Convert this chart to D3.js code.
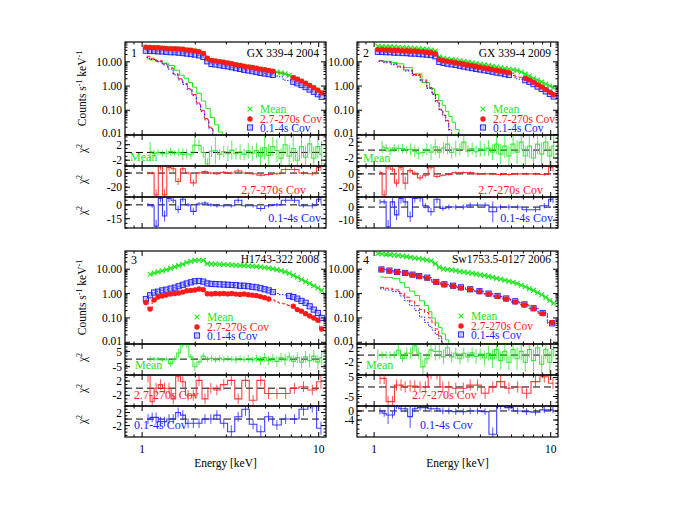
<!DOCTYPE html>
<html>
<head>
<meta charset="utf-8">
<script src="https://cdn.jsdelivr.net/npm/d3@7"></script>
<style>
body { margin: 0; background: #fff; }
svg { display: block; }
svg text { font-family: "Liberation Serif", "DejaVu Serif", "Times New Roman", serif; }
</style>
</head>
<body>
<svg id="chart" width="692" height="518"></svg>
<script>
// energy grids (keV)
const E_SPEC = [1.05,1.11,1.17,1.23,1.30,1.37,1.45,1.53,1.61,1.70,1.79,1.89,1.99,2.10,2.22,2.34,2.47,2.60,2.75,2.90,3.06,3.22,3.40,3.59,3.78,3.99,4.21,4.44,4.68,4.94,5.21,5.50,5.80,6.12,6.45,6.81,7.18,7.57,7.99,8.43,8.89,9.38,9.89,10.4];
const E_RES = [1.08,1.14,1.2,1.27,1.34,1.42,1.5,1.6,1.7,1.82,1.95,2.1,2.27,2.45,2.65,2.9,3.2,3.5,3.85,4.25,4.7,5.2,5.8,6.5,7.3,8.2,9.2,10.3];
const E4_COV = [1.1,1.22,1.35,1.5,1.65,1.8,2.0,2.25,2.5,2.8,3.1,3.5,3.95,4.45,5.0,5.6,6.3,7.1,8.0,9.0,10.2];

// ---- panel 1: GX 339-4 2004 ----
const p1Mean  = [40,39,38,38,37,36,35,35,34,33,31,30,28,26,22,14,11.5,10.8,10.2,9.6,9.0,8.4,7.6,7.1,6.6,6.2,5.8,5.4,5.0,4.7,4.4,4.1,3.8,3.5,3.2,2.8,2.3,1.95,1.6,1.3,1.05,0.86,0.68,0.52];
const p1Cov27 = [40,39,38,38,37,36,35,35,34,33,31,30,28,26,22,14,11.5,10.8,10.2,9.6,9.0,8.4,7.6,7.1,6.6,6.2,5.8,5.4,5.0,4.7,4.4,4.1,null,null,null,null,2.2,1.9,1.6,1.3,1.05,0.85,0.68,0.52];
const p1Cov01 = [29,28,28,27,27,26,25,25,24,23,22,21,20,18.5,16,10.5,8.3,7.8,7.3,6.9,6.5,6.0,5.5,5.1,4.7,4.4,4.1,3.8,3.5,3.3,3.1,2.9,null,null,null,null,1.5,1.3,1.1,0.9,0.72,0.58,0.46,0.36];
const p1Cov27Gap = [3.7,3.5,3.3,2.6];
const p1Cov01Gap = [2.6,2.4,1.75,1.7];
const p1DiskMeanE = [1.06,1.15,1.25,1.35,1.47,1.58,1.68,1.78,1.88,1.98,2.1,2.23,2.36,2.5,2.64,2.78,2.92];
const p1DiskMean  = [13.2,12,10.5,8.9,7.1,4.5,2.8,2.1,1.4,0.9,0.5,0.24,0.12,0.05,0.025,0.0126,0.0063];
const p1DiskCov27E = [1.06,1.15,1.25,1.35,1.45,1.55,1.65,1.75,1.86,1.97,2.09,2.2,2.32,2.45,2.58];
const p1DiskCov27  = [17,14,11.2,8.3,5.6,3.2,2.0,1.3,0.8,0.45,0.2,0.1,0.045,0.02,0.008];
const p1DiskCov01E = [1.06,1.15,1.25,1.35,1.45,1.55,1.65,1.75,1.86,1.97,2.09,2.2,2.32,2.45,2.58,2.7];
const p1DiskCov01  = [15,12.5,10,7.5,5,2.9,1.8,1.15,0.7,0.4,0.18,0.09,0.04,0.018,0.009,0.005];
const p1ResMean    = [null,0.2,-0.3,0,-0.3,-0.2,0.2,-0.2,0,-0.5,-0.4,-0.6,1.9,1.8,0,-3,0.3,0.5,-0.5,0.2,-0.3,0.6,-0.3,0.1,-0.5,0.4,-0.2,0.5,-1.0,1.2,-0.8,1.5,0.5,-1.5,2.0,-1.0,1.0,-2.0,1.5,-1.2,2.2,-1.5,1.5,-0.5];
const p1ResMeanErr = [0,2.5,1,0.8,0.8,1,1,0.8,1,1.5,1.2,1,2,1.5,1.5,1.5,1.5,3.5,1.5,1.5,2,2.5,1.5,2,1.5,2,2,2,2.5,3,3,2.5,3,2.5,2.5,3,3.5,2.5,3,3,2.5,3,3,3.5];
const p1ResCov27    = [0,0,-31,9,-31,8,6,-12,6,0,-14,0,2,0,-1,1,0,3,0,-1,-3,-2,-1,5,5,0,-1,8];
const p1ResCov27Err = [2,2,8,5,8,5,4,5,4,2,5,2,2,2,2,2,2,3,2,2,2,2,2,3,3,3,3,5];
const p1ResCov01    = [0,-1,-23,7,-12,7,5,-5,6,0,-7,1,2,0,-1,-1,-1,5,-1,-1,-4,-1,0,5,5,-1,-1,6];
const p1ResCov01Err = [2,2,7,4,6,4,3,4,3,2,4,2,2,2,2,2,2,3,2,2,3,2,2,3,3,2,3,5];

// ---- panel 2: GX 339-4 2009 ----
const p2Mean  = [44,43,42,42,41,40,39,38,37,36,35,34,33,31,28,16,14,13.2,12.5,11.8,11.1,10.4,9.7,9.1,8.5,8.0,7.5,7.0,6.5,6.1,5.7,5.3,5.0,4.7,4.4,3.8,3.1,2.6,2.1,1.75,1.45,1.2,1.0,0.85];
const p2Cov27 = [32,32,31,31,30,30,29,29,28,28,27,26,25,24,21,12.5,11.2,10.5,9.8,9.2,8.6,8.0,7.4,6.9,6.4,6.0,5.6,5.2,4.8,4.5,4.2,3.9,3.6,null,null,null,2.1,1.8,1.45,1.15,0.92,0.72,0.56,0.44];
const p2Cov01 = [26,26,25,25,24,24,23,23,22,22,21,20.5,20,19,17,10,9.0,8.4,7.9,7.4,6.9,6.4,5.9,5.5,5.1,4.8,4.5,4.2,3.9,3.6,3.4,3.1,2.9,null,null,null,1.75,1.5,1.2,0.95,0.76,0.6,0.47,0.37];
const p2Cov27Gap = [3.4,2.4,2.3];
const p2Cov01Gap = [2.7,2.0,1.9];
const p2DiskMeanE = [1.08,1.2,1.3,1.4,1.55,1.75,1.99,2.13,2.27,2.38,2.48,2.6,2.7,2.83,2.96,3.1];
const p2DiskMean  = [11.2,10.5,9.5,8.3,5.8,3.2,1.4,0.8,0.45,0.25,0.16,0.09,0.056,0.032,0.016,0.008];
const p2DiskCov27E = [1.06,1.2,1.3,1.4,1.55,1.75,1.9,2.08,2.18,2.27,2.4,2.5,2.59,2.7];
const p2DiskCov27  = [11.2,10,8.3,6.6,4.6,3.0,1.8,0.87,0.5,0.25,0.11,0.063,0.038,0.016];
const p2DiskCov01E = [1.06,1.2,1.3,1.4,1.55,1.75,1.9,2.08,2.18,2.27,2.4,2.5,2.59,2.7,2.8];
const p2DiskCov01  = [10.5,9.2,7.6,6.0,4.2,2.7,1.6,0.8,0.45,0.22,0.1,0.06,0.035,0.015,0.008];
const p2ResMean    = [null,0.8,0.5,-0.2,0.5,0.4,0.4,0,0.2,-0.3,-0.8,-0.6,0.2,-0.5,0.8,-0.5,0.5,1.5,-0.6,0.3,0.2,2,-0.3,0.4,-0.4,0.3,0,0.5,-0.5,1.5,-1,1,-1.5,1.5,-0.5,2,-1.5,1,-2,1.5,-1,2,-1.5,1];
const p2ResMeanErr = [0,1.5,1,1,1,1,1.2,1,1.5,1.5,1.5,1,1.5,2,2,1.5,1.5,2.5,1.5,2,1.5,2,1.5,1.5,1.5,2,1.5,2,2,2.5,2.5,3,2.5,2.5,3,2,2.5,3,2,2.5,3,2,2.5,3];
const p2ResCov27    = [2,-32,11,7,-14,10,-14,5,1,-6,-2,10,-4,-2,-1,2,2,2,0,0,0,-1,-1,0,0,0,-1,10];
const p2ResCov27Err = [3,8,5,4,6,5,10,4,3,4,3,4,3,2,2,2,2,2,2,2,2,2,2,2,2,2,2,6];
const p2ResCov01    = [4,4,-15,4,-6,6.6,4,-7.4,6.5,7,1,-3.6,6,-1,0,0,0,1.5,1.5,1.5,-3.6,0,0,0,-2,-2,1,6];
const p2ResCov01Err = [2,2,5,3,4,4,3,4,3,3,2,3,3,2,2,2,2,2,2,2,8,2,2,2,2,2,2,3];

// ---- panel 3: H1743-322 2008 ----
const p3Mean  = [null,6.2,7.0,7.8,8.6,9.5,10.8,12.5,14,16,19,21,23,23.5,23,17,16.5,16.2,16,15.6,15.3,15,14.6,14.3,14,13.6,13.2,12.8,12.3,11.8,11.2,10.4,9.6,8.8,7.8,6.8,5.6,4.7,3.8,3.1,2.6,2.1,1.7,1.35];
const p3Cov27 = [0.43,0.23,0.55,0.72,0.8,0.88,0.95,1.0,1.05,1.15,1.3,1.35,1.4,1.55,1.45,0.98,0.96,1.0,0.98,1.0,0.97,1.0,0.95,0.92,0.96,0.9,0.86,0.82,0.75,0.68,0.6,null,null,null,null,null,0.3,0.22,0.19,0.15,0.12,0.1,0.08,0.035];
const p3Cov01 = [0.6,0.85,1.1,1.2,1.35,1.45,1.6,1.75,2.0,2.3,2.6,2.9,3.2,3.3,3.1,2.6,2.5,2.45,2.4,2.35,2.3,2.25,2.2,2.1,2.1,2.0,1.9,1.8,1.65,1.5,1.35,1.15,null,null,null,0.8,0.72,0.62,0.5,0.42,0.3,0.22,0.16,0.1];
const p3Cov27Gap = [0.55,0.45,0.4,0.38,0.33];
const p3Cov01Gap = [1.0,0.9,0.88];
const p3ResMean    = [null,0,0,0,-0.5,0,-3,0,4,9.5,9.5,1.5,-5,-2,2,0,0.5,-0.5,0.5,-0.3,0.3,0,-0.5,0.4,-0.3,0.2,-0.6,0.5,-1,1,-1,0.5,-1.5,1,-0.5,1.5,-1.5,1,-2,1.5,-1,2,-2,1];
const p3ResMeanErr = [0,2,1.5,1.5,1.5,1.5,2,2,3,2,2,2,3,2,2,2,2,2,2,2,2,2,2.5,2,2,2.5,2,2.5,3,3,3,3,3.5,3,4,3,4,3.5,4,4,4.5,4,4.5,5];
const p3ResCov27    = [3.6,-3.8,0,1,0,0,-3,3.2,1.8,-2,-2,2.2,-3,0,-0.5,1,2.2,-3,2.2,-3.4,2.2,-1.5,-1.5,-1.5,0,0.4,-0.5,1.8];
const p3ResCov27Err = [2,1.5,1.5,1.5,1.5,1.5,1.5,1.5,1.5,1.5,1.5,1.5,1.5,1.5,1.5,1.5,1.5,1.5,2,1.5,1.5,1.5,1.5,1.5,1.5,1.5,1.5,2];
const p3ResCov01    = [0,0.5,0.5,-0.8,-0.8,0,0,2,1.2,-1.3,-1.3,-1.3,0,0,1.2,-1.3,-3.9,0.7,3,-1.6,-3.9,0.7,-1.8,0,0,3,4,-2.8];
const p3ResCov01Err = [1.5,1.5,1.5,1.5,1.5,1.5,1.5,1.5,1.5,1.5,1.5,1.5,1.5,1.5,1.5,1.5,2,1.5,2,1.5,2,1.5,1.5,1.5,1.5,2,2,2];

// ---- panel 4: Sw1753.5-0127 2006 ----
const p4Mean  = [44,42,41,40,38,37,35,33,31,29,27.5,26,24,22,17,12,10.3,9.8,9.3,8.8,8.1,7.7,7.2,6.8,6.3,5.9,5.5,5.1,4.7,4.2,3.9,3.5,3.2,2.9,2.6,2.2,1.9,1.6,1.35,1.1,0.9,0.7,0.52,0.4];
const p4Cov27 = [9.5,8.5,7.5,6.8,5.8,5.0,4.3,2.9,2.3,2.0,1.7,1.45,1.2,0.95,0.75,0.6,0.45,0.34,0.24,0.15,0.065];
const p4Cov01 = [9.8,8.8,7.8,7.0,6.0,5.2,4.5,3.0,2.4,2.1,1.8,1.5,1.25,1.0,0.8,0.63,0.48,0.36,0.25,0.16,0.06];
const p4DiskMeanE = [1.08,1.2,1.35,1.45,1.53,1.65,1.75,1.87,1.99,2.08,2.17,2.27,2.37,2.48,2.59,2.7];
const p4DiskMean  = [4.8,4.6,4.1,2.8,1.8,1.26,0.83,0.5,0.32,0.18,0.1,0.063,0.04,0.022,0.0126,0.008];
const p4DiskCov27E = [1.08,1.2,1.35,1.45,1.53,1.65,1.75,1.87,1.99,2.08,2.17,2.27,2.37,2.45];
const p4DiskCov27  = [1.8,1.66,1.41,1.0,0.71,0.5,0.32,0.22,0.166,0.1,0.063,0.035,0.018,0.01];
const p4DiskCov01E = [1.08,1.2,1.35,1.45,1.53,1.65,1.75,1.87,1.99,2.08,2.17,2.27,2.37,2.48];
const p4DiskCov01  = [1.58,1.41,1.2,0.8,0.51,0.32,0.2,0.11,0.065,0.045,0.032,0.021,0.014,0.009];
const p4ResMean    = [0,0,0,0,0,1.3,-0.9,0.5,0.5,2.5,0.5,-3.2,-1,1.4,1,1,-0.5,2,-0.5,0.5,-1,0.5,-0.5,0.6,-0.4,0.3,-0.8,0.5,-1,1.5,-1.5,1,-2,1.5,-1,1,-2,1.5,-1.5,2,-2.5,1.5,-2,1.5];
const p4ResMeanErr = [1.5,1,1,1,1,1.5,1,1.5,1.5,1.5,1.5,2,1.5,2,2.5,2,2,2,1.5,1.5,1.5,1.5,1.5,1.5,2,1.5,2,2,2.5,2.5,2.5,2.5,2,2.5,3,2.5,2.5,2,3,2,2.5,2.5,3,2];
const p4ResCov27    = [4.5,4.5,-7.7,-7.7,1,1,0,0.5,0.5,0,0,7,7,0,0,-0.7,-0.7,1,1,-3.3,0,2.8,-0.7,0,-3.3,2.8,5.4,2];
const p4ResCov27Err = [3,3,3,3,3,3,3,3,3,3,3,3,3,3,3,3,3,3,3,3,3,3,3,3,3,3,3,3];
const p4ResCov01    = [0,-1,-1.8,-1.8,2.3,1,1,-2.5,1,1.5,1.5,1,1,0,0,-0.3,-0.3,0,0,-0.3,-10.3,2.2,1.5,0,-0.3,-0.5,0.5,0.5];
const p4ResCov01Err = [1.5,1.5,4,1.5,1.5,1.5,1.5,5,1.5,1.5,1.5,1.5,1.5,1.5,1.5,1.5,1.5,1.5,1.5,1.5,3,1.5,1.5,1.5,1.5,1.5,1.5,1.5];

const SERIES_NAMES = ["Mean", "2.7-270s Cov", "0.1-4s Cov"];
const GREEN = "#1ee61e", RED = "#ff1a1a", BLUE = "#1a1aff";
const COLORS = [GREEN, RED, BLUE];
const FONT = "Liberation Serif, DejaVu Serif, serif";

// layout
const colLeft = [125, 357], panelW = 201;
const rowTop = [42, 251], mainH = 93, resH = 31;

const panels = [
  { col: 0, row: 0, num: "1", title: "GX 339-4 2004", yDom: [0.0095, 66],
    spec: [[E_SPEC, p1Mean, null], [E_SPEC, p1Cov01, p1Cov01Gap], [E_SPEC, p1Cov27, p1Cov27Gap]],
    disks: [[p1DiskMeanE, p1DiskMean], [p1DiskCov27E, p1DiskCov27], [p1DiskCov01E, p1DiskCov01]],
    res: [[E_SPEC, p1ResMean, p1ResMeanErr, [-3.5, 4.5], [2, -2]],
          [E_RES, p1ResCov27, p1ResCov27Err, [-34, 10], [0, -20]],
          [E_RES, p1ResCov01, p1ResCov01Err, [-25, 8.5], [0, -15]]],
    leg: [125, 67], resLab: [["start", 5, 26], ["end", -20, 28], ["end", -5, 25]] },
  { col: 1, row: 0, num: "2", title: "GX 339-4 2009", yDom: [0.0095, 66],
    spec: [[E_SPEC, p2Mean, null], [E_SPEC, p2Cov01, p2Cov01Gap], [E_SPEC, p2Cov27, p2Cov27Gap]],
    disks: [[p2DiskMeanE, p2DiskMean], [p2DiskCov27E, p2DiskCov27], [p2DiskCov01E, p2DiskCov01]],
    res: [[E_SPEC, p2ResMean, p2ResMeanErr, [-4, 3.8], [2, -2]],
          [E_RES, p2ResCov27, p2ResCov27Err, [-35, 12], [0, -20]],
          [E_RES, p2ResCov01, p2ResCov01Err, [-16, 7.7], [0, -10]]],
    leg: [126, 67], resLab: [["start", 6, 27], ["end", -15, 28], ["end", -5, 25]] },
  { col: 0, row: 1, num: "3", title: "H1743-322 2008", yDom: [0.0085, 56],
    spec: [[E_SPEC, p3Mean, null], [E_SPEC, p3Cov01, p3Cov01Gap], [E_SPEC, p3Cov27, p3Cov27Gap]],
    disks: [],
    res: [[E_SPEC, p3ResMean, p3ResMeanErr, [-10.5, 10], [5, -5]],
          [E_RES, p3ResCov27, p3ResCov27Err, [-5, 3.7], [2, -2]],
          [E_RES, p3ResCov01, p3ResCov01Err, [-5.5, 4], [2, -2]]],
    leg: [72, 66], resLab: [["start", 10, 25], ["start", 9, 24], ["start", 9, 23]] },
  { col: 1, row: 1, num: "4", title: "Sw1753.5-0127 2006", yDom: [0.0085, 56],
    spec: [[E_SPEC, p4Mean, null], [E4_COV, p4Cov01, null], [E4_COV, p4Cov27, null]],
    disks: [[p4DiskMeanE, p4DiskMean], [p4DiskCov27E, p4DiskCov27], [p4DiskCov01E, p4DiskCov01]],
    res: [[E_SPEC, p4ResMean, p4ResMeanErr, [-5.4, 3], [2, -2]],
          [E_RES, p4ResCov27, p4ResCov27Err, [-10, 6.3], [5, -5]],
          [E_RES, p4ResCov01, p4ResCov01Err, [-11.5, 2.2], [0, -4]]],
    leg: [104, 65], resLab: [["start", 9, 25], ["start", 55, 24], ["start", 63, 23]] }
];

const svg = d3.select("#chart").attr("font-family", FONT);
svg.append("rect").attr("width", 692).attr("height", 518).attr("fill", "#fff");
const defs = svg.append("defs");

// spec order in config is mean, cov01, cov27 (draw order)
const specStyle = [
  { color: GREEN, dash: null, marker: "cross" },
  { color: BLUE, dash: "1.5,1.5", marker: "square" },
  { color: RED, dash: "4,2", marker: "circle" }
];
const diskDash = [null, "4,2", "1.5,1.5"];

function fillGap(vals, gap) {
  let k = 0;
  return vals.map(v => v == null ? (gap && k < gap.length ? gap[k++] : null) : v);
}

function drawMarker(sel, type, color) {
  if (type === "cross") {
    sel.append("path").attr("d", "M-2.4,-2.4L2.4,2.4M-2.4,2.4L2.4,-2.4")
      .attr("stroke", color).attr("stroke-width", 1.1).attr("fill", "none");
  } else if (type === "circle") {
    sel.append("circle").attr("r", 2.7).attr("fill", color);
  } else {
    sel.append("rect").attr("x", -2.6).attr("y", -2.6).attr("width", 5.2).attr("height", 5.2)
      .attr("fill", "rgba(140,140,255,0.45)").attr("stroke", color).attr("stroke-width", 0.9);
  }
}

function addText(g, xx, yy, txt, size, anchor, color) {
  return g.append("text").attr("x", xx).attr("y", yy)
    .attr("font-family", FONT).attr("font-size", size)
    .attr("text-anchor", anchor || "start").attr("fill", color || "#000").text(txt);
}

function xTicks(g, x, top, bottom) {
  const maj = [1, 10], minr = [0.9, 2, 3, 4, 5, 6, 7, 8, 9];
  maj.forEach(v => {
    g.append("line").attr("x1", x(v)).attr("x2", x(v)).attr("y1", bottom).attr("y2", bottom - 5).attr("stroke", "#000");
    g.append("line").attr("x1", x(v)).attr("x2", x(v)).attr("y1", top).attr("y2", top + 5).attr("stroke", "#000");
  });
  minr.forEach(v => {
    g.append("line").attr("x1", x(v)).attr("x2", x(v)).attr("y1", bottom).attr("y2", bottom - 2.5).attr("stroke", "#000");
    g.append("line").attr("x1", x(v)).attr("x2", x(v)).attr("y1", top).attr("y2", top + 2.5).attr("stroke", "#000");
  });
}

function yTick(g, x0, x1, yy, len) {
  g.append("line").attr("x1", x0).attr("x2", x0 + len).attr("y1", yy).attr("y2", yy).attr("stroke", "#000");
  g.append("line").attr("x1", x1).attr("x2", x1 - len).attr("y1", yy).attr("y2", yy).attr("stroke", "#000");
}

panels.forEach(p => {
  const x0 = colLeft[p.col], x1 = x0 + panelW, y0 = rowTop[p.row];
  const x = d3.scaleLog().domain([0.8, 11]).range([x0, x1]);
  const y = d3.scaleLog().domain(p.yDom).range([y0 + mainH, y0]);
  const g = svg.append("g");

  // ---- main spectrum ----
  const cid = "clipm" + p.num;
  defs.append("clipPath").attr("id", cid).append("rect")
    .attr("x", x0).attr("y", y0).attr("width", panelW).attr("height", mainH);
  const gm = g.append("g").attr("clip-path", `url(#${cid})`);

  const stepLine = d3.line().curve(d3.curveStep)
    .defined(d => d[1] != null)
    .x(d => x(d[0])).y(d => y(d[1]));

  // disk components
  p.disks.forEach((d, i) => {
    gm.append("path").datum(d[0].map((e, j) => [e, d[1][j]]))
      .attr("d", stepLine).attr("fill", "none")
      .attr("stroke", COLORS[i]).attr("stroke-width", 1)
      .attr("stroke-dasharray", diskDash[i]);
  });

  // model steps along each spectrum
  p.spec.forEach((s, i) => {
    const vals = fillGap(s[1], s[2]);
    gm.append("path").datum(s[0].map((e, j) => [e, vals[j]]))
      .attr("d", stepLine).attr("fill", "none")
      .attr("stroke", specStyle[i].color).attr("stroke-width", 1)
      .attr("stroke-dasharray", specStyle[i].dash);
  });

  // data markers
  p.spec.forEach((s, i) => {
    const pts = s[0].map((e, j) => [e, s[1][j]]).filter(d => d[1] != null);
    const mg = gm.selectAll(null).data(pts).enter().append("g")
      .attr("transform", d => `translate(${x(d[0])},${y(d[1])})`);
    drawMarker(mg, specStyle[i].marker, specStyle[i].color);
  });

  // frame + ticks
  g.append("rect").attr("x", x0).attr("y", y0).attr("width", panelW).attr("height", mainH)
    .attr("fill", "none").attr("stroke", "#000").attr("stroke-width", 1.2);
  xTicks(g, x, y0, y0 + mainH);
  [0.01, 0.1, 1, 10].forEach(v => {
    yTick(g, x0, x1, y(v), 5);
    addText(g, x0 - 3, y(v) - (v === 0.01 ? 1.5 : 0), d3.format(".2f")(v), 11.5, "end").attr("dy", "0.35em");
  });
  [0.01, 0.1, 1, 10].forEach(dec => {
    for (let k = 2; k <= 9; k++) {
      const v = dec * k;
      if (v > p.yDom[0] && v < p.yDom[1]) yTick(g, x0, x1, y(v), 2.5);
    }
  });

  // panel number, title
  addText(g, x0 + 6, y0 + (p.row ? 13 : 15), p.num, 12);
  addText(g, x1 - 7, y0 + (p.row ? 12 : 15), p.title, 11.5, "end");

  // legend
  const legOrder = [0, 2, 1];
  legOrder.forEach((si, r) => {
    const ly = y0 + p.leg[1] + [0, 10, 18.5][r];
    const lg = g.append("g").attr("transform", `translate(${x0 + p.leg[0]},${ly})`);
    drawMarker(lg, specStyle[si].marker, specStyle[si].color);
    addText(g, x0 + p.leg[0] + 10, ly + 4, SERIES_NAMES[r], 11.5, "start", specStyle[si].color);
  });

  // y-axis label
  if (p.col === 0) {
    const cy = y0 + mainH / 2;
    const t = g.append("text").attr("transform", `translate(86,${cy}) rotate(-90)`)
      .attr("font-family", FONT).attr("text-anchor", "middle").attr("font-size", 11.5);
    t.append("tspan").text("Counts s");
    t.append("tspan").attr("dy", -4).attr("font-size", 8).text("-1");
    t.append("tspan").attr("dy", 4).text(" keV");
    t.append("tspan").attr("dy", -4).attr("font-size", 8).text("-1");
  }

  // ---- residual panels ----
  p.res.forEach((r, i) => {
    const top = y0 + mainH + i * resH, bot = top + resH;
    const yr = d3.scaleLinear().domain(r[3]).range([bot, top]);
    const rid = "clipr" + p.num + i;
    defs.append("clipPath").attr("id", rid).append("rect")
      .attr("x", x0).attr("y", top).attr("width", panelW).attr("height", resH);
    const gr = g.append("g").attr("clip-path", `url(#${rid})`);
    const col = COLORS[i];

    gr.append("line").attr("x1", x0).attr("x2", x1).attr("y1", yr(0)).attr("y2", yr(0))
      .attr("stroke", "#000").attr("stroke-width", 1).attr("stroke-dasharray", "7,4");

    const pts = r[0].map((e, j) => [e, r[1][j], r[2][j]]);
    const rl = d3.line().curve(d3.curveStep).defined(d => d[1] != null)
      .x(d => x(d[0])).y(d => yr(d[1]));
    gr.selectAll(null).data(pts.filter(d => d[1] != null)).enter().append("line")
      .attr("x1", d => x(d[0])).attr("x2", d => x(d[0]))
      .attr("y1", d => yr(d[1] - d[2])).attr("y2", d => yr(d[1] + d[2]))
      .attr("stroke", col).attr("stroke-opacity", 0.75).attr("stroke-width", 1);
    gr.append("path").datum(pts).attr("d", rl).attr("fill", "none")
      .attr("stroke", col).attr("stroke-opacity", 0.85).attr("stroke-width", 1.1);

    g.append("rect").attr("x", x0).attr("y", top).attr("width", panelW).attr("height", resH)
      .attr("fill", "none").attr("stroke", "#000").attr("stroke-width", 1.2);
    xTicks(g, x, top, bot);
    yr.ticks(8).forEach(v => yTick(g, x0, x1, yr(v), 2.5));
    r[4].forEach(v => {
      yTick(g, x0, x1, yr(v), 5);
      addText(g, x0 - 3, yr(v), v, 11.5, "end").attr("dy", "0.35em");
    });

    // chi^2 label (left column only)
    if (p.col === 0) {
      const ct = g.append("text").attr("transform", `translate(86,${(top + bot) / 2 - 2}) rotate(-90)`)
        .attr("font-family", FONT).attr("text-anchor", "middle").attr("font-size", 11.5);
      ct.append("tspan").text("\u03c7");
      ct.append("tspan").attr("dy", -4).attr("font-size", 8).text("2");
    }

    // series label inside residual
    const lab = p.resLab[i];
    addText(g, lab[0] === "start" ? x0 + lab[1] : x1 + lab[1], top + lab[2],
      SERIES_NAMES[i], 12, lab[0], col);
  });

  // x-axis labels on bottom row
  if (p.row === 1) {
    const yb = y0 + mainH + 3 * resH;
    [1, 10].forEach(v => addText(g, x(v), yb + 16, v, 11.5, "middle"));
    addText(g, (x0 + x1) / 2, yb + 30, "Energy [keV]", 11.5, "middle");
  }
});
</script>
</body>
</html>
